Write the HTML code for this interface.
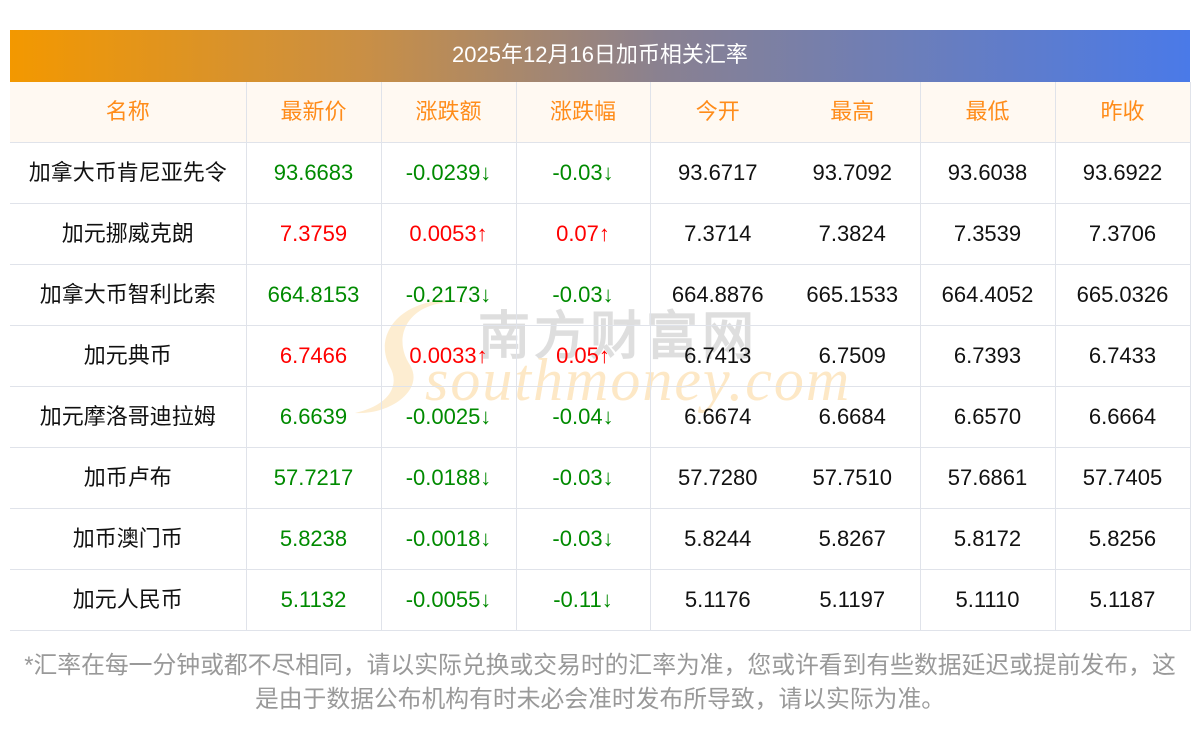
<!DOCTYPE html>
<html><head><meta charset="utf-8"><style>
html,body{margin:0;padding:0;background:#fff;}
body{width:1200px;height:733px;position:relative;overflow:hidden;font-family:"Liberation Sans","WenQuanYi Zen Hei","Noto Sans CJK SC",sans-serif;}
.title{position:absolute;left:10px;top:30px;width:1180px;height:52px;background:linear-gradient(90deg,#f39800 0%,#c98f45 30%,#8a8190 55%,#4a7ae8 100%);color:#fff;font-size:22px;line-height:50px;text-align:center;}
table{position:absolute;left:10px;top:82px;border-collapse:collapse;table-layout:fixed;width:1180px;z-index:2;}
td{height:60px;border-bottom:1px solid #e0e3ea;text-align:center;font-size:22px;line-height:26px;padding:0;color:#111;}
td.b{border-right:1px solid #e0e3ea;}
tr.h td{background:#fff9f2;color:#ff8c1a;}
.g{color:#008a00;}.r{color:#ff0000;}
.wm1{position:absolute;left:478px;top:294px;font-size:52px;color:#d9d9d9;letter-spacing:4px;font-family:"WenQuanYi Zen Hei",sans-serif;font-weight:bold;z-index:1;opacity:.85;}
.wm2{position:absolute;left:425px;top:346px;font-size:60px;color:#fde8c6;font-style:italic;font-family:"Liberation Serif",serif;z-index:1;letter-spacing:2px;}
.note{position:absolute;left:0;width:1200px;top:649px;text-align:center;color:#999;font-size:23.8px;line-height:34px;white-space:nowrap;}
</style></head><body>
<div class="title">2025年12月16日加币相关汇率</div>
<svg style="position:absolute;left:350px;top:295px;z-index:1" width="140" height="130"><path d="M120 8 C60 0,40 40,60 70 C75 95,40 120,5 118 C40 110,50 90,40 72 C20 35,60 -5,120 8Z" fill="#fde8c6" opacity=".8"/></svg>
<div class="wm1">南方财富网</div>
<div class="wm2">southmoney.com</div>
<table>
<colgroup><col style="width:236px"><col style="width:135px"><col style="width:135px"><col style="width:134px"><col style="width:135px"><col style="width:135px"><col style="width:135px"><col style="width:135px"></colgroup>
<tr class="h"><td class="b">名称</td><td class="b">最新价</td><td class="b">涨跌额</td><td class="b">涨跌幅</td><td>今开</td><td class="b">最高</td><td class="b">最低</td><td class="b">昨收</td></tr>
<tr><td class="b">加拿大币肯尼亚先令</td><td class="b g">93.6683</td><td class="b g">-0.0239↓</td><td class="b g">-0.03↓</td><td>93.6717</td><td class="b">93.7092</td><td class="b">93.6038</td><td class="b">93.6922</td></tr>
<tr><td class="b">加元挪威克朗</td><td class="b r">7.3759</td><td class="b r">0.0053↑</td><td class="b r">0.07↑</td><td>7.3714</td><td class="b">7.3824</td><td class="b">7.3539</td><td class="b">7.3706</td></tr>
<tr><td class="b">加拿大币智利比索</td><td class="b g">664.8153</td><td class="b g">-0.2173↓</td><td class="b g">-0.03↓</td><td>664.8876</td><td class="b">665.1533</td><td class="b">664.4052</td><td class="b">665.0326</td></tr>
<tr><td class="b">加元典币</td><td class="b r">6.7466</td><td class="b r">0.0033↑</td><td class="b r">0.05↑</td><td>6.7413</td><td class="b">6.7509</td><td class="b">6.7393</td><td class="b">6.7433</td></tr>
<tr><td class="b">加元摩洛哥迪拉姆</td><td class="b g">6.6639</td><td class="b g">-0.0025↓</td><td class="b g">-0.04↓</td><td>6.6674</td><td class="b">6.6684</td><td class="b">6.6570</td><td class="b">6.6664</td></tr>
<tr><td class="b">加币卢布</td><td class="b g">57.7217</td><td class="b g">-0.0188↓</td><td class="b g">-0.03↓</td><td>57.7280</td><td class="b">57.7510</td><td class="b">57.6861</td><td class="b">57.7405</td></tr>
<tr><td class="b">加币澳门币</td><td class="b g">5.8238</td><td class="b g">-0.0018↓</td><td class="b g">-0.03↓</td><td>5.8244</td><td class="b">5.8267</td><td class="b">5.8172</td><td class="b">5.8256</td></tr>
<tr><td class="b">加元人民币</td><td class="b g">5.1132</td><td class="b g">-0.0055↓</td><td class="b g">-0.11↓</td><td>5.1176</td><td class="b">5.1197</td><td class="b">5.1110</td><td class="b">5.1187</td></tr>
</table>
<div class="note">*汇率在每一分钟或都不尽相同，请以实际兑换或交易时的汇率为准，您或许看到有些数据延迟或提前发布，这<br>是由于数据公布机构有时未必会准时发布所导致，请以实际为准。</div>
</body></html>
